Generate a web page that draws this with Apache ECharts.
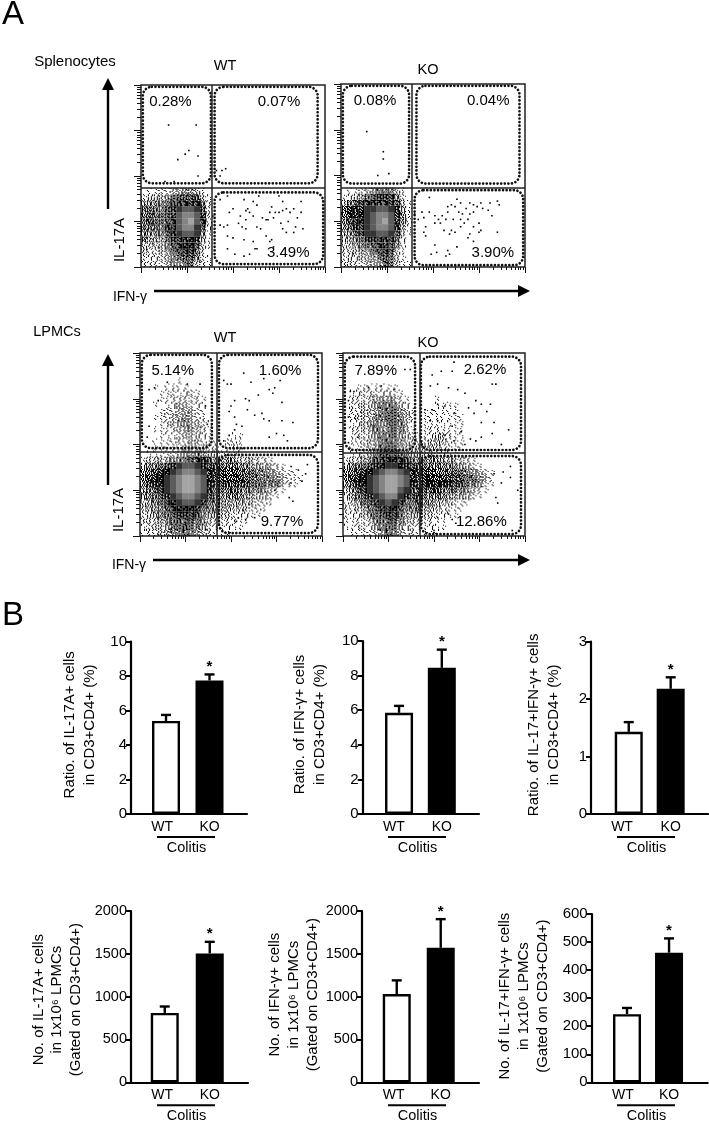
<!DOCTYPE html>
<html>
<head>
<meta charset="utf-8">
<style>html,body{margin:0;padding:0;background:#fff}#chart{width:709px;height:1123px}</style>
<script src="https://cdn.jsdelivr.net/npm/echarts@6/dist/echarts.min.js"></script>
</head>
<body>
<div id="chart"></div>
<script>
// bar values: mean and top of the error bar, [WT, KO]
var il17Ratio = [5.4, 7.75], il17RatioTop = [5.75, 8.1];
var ifngRatio = [5.85, 8.45], ifngRatioTop = [6.25, 9.5];
var dpRatio = [1.43, 2.18], dpRatioTop = [1.6, 2.38];
var il17Count = [810, 1505], il17CountTop = [885, 1640];
var ifngCount = [1030, 1570], ifngCountTop = [1190, 1905];
var dpCount = [243, 462], dpCountTop = [265, 513];
var groups = ['WT', 'KO'];

// gate percentages of panel A: upper left, upper right, lower right
var spleenWtPct = ['0.28%', '0.07%', '3.49%'];
var spleenKoPct = ['0.08%', '0.04%', '3.90%'];
var lpmcWtPct = ['5.14%', '1.60%', '9.77%'];
var lpmcKoPct = ['7.89%', '2.62%', '12.86%'];

// density of the dense cell clouds, read cell by cell, top row first.
// 0-9 = how crowded the dots are, a-d = the smooth grey core of the contour plot (a lightest)
var spleenWtCloud = [
  '011223344310', '233346777731', '455567888862', '566578dccd72', '676678cbbc82', '676678cbac82',
  '666588cbbd72', '555578dccd51', '544468889841', '333357899731', '322346788620', '222235677521', '222234466321'
];
var spleenKoCloud = [
  '011234555310', '123467888520', '367888888731', '5888ddccd841', '6889dcbbc851', '5789dcbac852',
  '5688dcbbc841', '4578ddccd731', '345688888620', '334567887520', '233446787310', '232334576310', '232233476311'
];
var lpmcWtCloud = [
  '000000000000000000000000000000', '000000000000000000000000000000', '000000000000000000000000000000',
  '000000000000000000000000000000', '000000100000000000000000000000', '001011110000000000000000000000',
  '000112122100000000000000000000', '000112222210000000000000000000', '001012332210000000000000000000',
  '000122333210000000000000000000', '001123343210000000000000000000', '000123443321000000000000000000',
  '001112344321000000000000000000', '000111233321000110000000000000', '001112223321102210000000000000',
  '001111233332202220000000000000', '011112344543321110000000000000', '133344567887545433322100000000',
  '355678dccd87766655443321000000', '56789dcbbcd8776766655432110000', '5789dcbaabc8777776665543211000',
  '5789dcbaabc8777777666553210000', '4678dcbaabc8666665554321000000', '45678dcbbcd7655554433210000000',
  '345689dccd86544443322100000000', '344578999865544333221000000000', '234567888754433222110000000000',
  '233456777643322211000000000000', '123346676542212110000000000000', '122345565432111000000000000000'
];
var lpmcKoCloud = [
  '000000000000000000000000000000', '000000000000000000000000000000', '000000000000000000000000000000',
  '000000000000000000000000000000', '000000000000000000000000000000', '001111111000000000000000000000',
  '012222221100000000000000000000', '022233443210000100000000000000', '022334555320000111100000000000',
  '022334566431011111100000000000', '023335566531011111110000000000', '012345456531011111110000000000',
  '022345456531012211110000000000', '012234556432112332110000000000', '012234565433223432110000000000',
  '011234666433334322110000000000', '012235777654333221100000000000', '133457899876555444332100000000',
  '3566789dd987766555543210000000', '56789dcbbcd8777666665432100000', '5789dcbaabc8788777776643100000',
  '5689dcbaabc8788888776542100000', '3578dcbaacd7877766654321000000', '24678dcbbd87865554443210000000',
  '234678dcd866755433211000000000', '223467889755644322110000000000', '222356788644433221100000000000',
  '112235677533322110000000000000', '112224566422212110000000000000', '011223465322111100000000000000'
];

// single events outside the clouds, [IFN-g, IL-17A] in percent of the plot
var spleenWtDots = [[15,78],[30,78],[26,64],[24,62],[31,61],[20,59],[31,50],[13,47],[18,47],[30,46],[41,53],[44,53],[46,54],[43,50],
  [43,23],[45,22],[47,23],[48,30],[50,32],[54,28],[57,31],[58,32],[59,30],[57,26],[53,24],[55,22],[61,28],[63,34],[64,39],[68,26],[66,27],
  [70,30],[71,33],[73,30],[75,30],[77,31],[79,32],[81,30],[83,32],[85,27],[84,22],[87,36],[88,21],[87,30],[75,39],[77,36],[72,27],[69,26],
  [63,22],[65,21],[57,21],[47,17],[50,16],[56,15],[61,14],[63,10],[68,17],[71,15],[72,11],[70,14],[47,10],[51,7],[56,6],[59,7],[62,10],
  [77,21],[79,19],[76,24],[80,25],[83,19],[39,28],[43,37],[47,39],[56,37],[61,36]];
var spleenKoDots = [[14,74],[23,63],[23,59],[20,50],[26,51],[48,38],[45,27],[48,30],[51,24],[46,22],[45,19],[46,17],[51,12],[49,7],[52,8],
  [57,6],[59,7],[63,11],[58,9],[54,24],[55,28],[57,26],[58,30],[58,33],[60,34],[62,33],[63,37],[65,35],[64,30],[66,29],[68,32],[70,35],
  [72,34],[74,33],[76,35],[77,32],[80,31],[81,35],[85,36],[86,34],[82,28],[72,30],[70,29],[69,26],[67,24],[65,26],[61,26],[60,20],[59,18],
  [62,19],[65,22],[70,18],[72,22],[75,24],[75,19],[76,20],[69,16],[72,14],[85,19],[56,20],[40,29],[42,26],[44,30],[51,28],[53,26]];
var lpmcWtDots = [[57,89],[77,85],[68,86],[46,85],[48,83],[50,83],[61,84],[74,81],[71,80],[52,74],[50,71],[60,74],[65,77],[58,75],[73,78],
  [78,73],[49,68],[52,65],[63,66],[67,67],[68,64],[71,63],[78,63],[84,62],[75,56],[71,54],[79,55],[81,52],[52,58],[49,55],[56,60],[46,52],
  [53,61],[59,69],[83,38],[87,36],[92,39],[91,34],[82,21],[84,19],[58,9],[54,10],[53,8],[76,9],[74,25],[83,29],[89,30],[63,10],
  [15,84],[8,81],[5,80],[26,83],[33,83],[36,71],[5,60],[4,54],[37,61],[10,74]];
var lpmcKoDots = [[61,95],[60,90],[54,90],[49,88],[52,83],[48,82],[58,81],[63,80],[67,78],[73,74],[76,72],[82,83],[84,83],[81,72],[79,68],
  [52,72],[49,69],[56,71],[61,67],[69,70],[72,67],[76,62],[83,62],[91,58],[82,56],[76,54],[70,53],[65,57],[60,60],[52,63],[48,63],[45,69],
  [73,52],[67,50],[61,52],[87,50],[56,55],[83,34],[88,35],[92,32],[87,29],[96,25],[84,21],[93,3],[58,12],[60,9],[52,10],[85,18],[62,7],[50,3],
  [92,38],[34,91],[37,91],[4,79],[6,79],[14,81],[21,82],[28,80],[3,74],[3,65],[3,51],[8,54]];

var FONT = '"Liberation Sans", Arial, sans-serif';
var INK = '#000';
var CORE_GREY = {a: '#a4a4a4', b: '#848484', c: '#5c5c5c', d: '#333333'};

var grids = [], xAxes = [], yAxes = [], series = [], elements = [];

// log scale ticks of the flow plots, four decades over 0-100
var decadeTicks = [0, 25, 50, 75, 100];
var minorTicks = [];
for (var d = 0; d < 4; d++) {
  for (var k = 2; k < 10; k++) {
    minorTicks.push(d * 25 + 25 * Math.log10(k));
  }
}

// speckle glyphs: a 6x6 cell, pixels switched on in these fixed orders as the tone rises
var speckleOrders = [
  [14,3,27,32,8,19,0,23,35,11,5,29,17,25,1,33,9,21,12,30,6,16,26,2,34,10,22,7,28,15,4,31,18,24,13,20],
  [7,22,34,1,16,28,11,5,31,19,25,2,13,35,9,20,4,27,15,30,0,24,10,33,18,6,29,3,21,12,26,8,32,17,23,14],
  [26,9,17,33,2,12,30,6,20,24,15,0,28,10,35,4,18,22,31,8,13,27,1,16,34,5,23,11,29,19,3,25,14,32,7,21],
  [19,32,4,12,29,0,23,15,35,7,26,10,2,30,17,21,6,33,13,25,1,28,9,20,34,5,16,24,11,31,3,18,27,8,22,14],
  [10,28,1,21,33,15,6,24,3,18,31,12,35,8,27,0,16,22,5,30,13,25,2,34,19,9,29,4,14,23,32,7,20,11,26,17]
];
function speckleSymbol(variant, tone) {
  var n = Math.round(tone * 3.7);
  var path = 'path://M0 0h.01v.01zM5.99 5.99h.01v.01z';
  for (var i = 0; i < n; i++) {
    var p = speckleOrders[variant][i];
    path += 'M' + (p % 6) + ' ' + Math.floor(p / 6) + 'h1v1h-1z';
  }
  return path;
}

function tickAxis(gridIndex, pos, ticks, len) {
  return {
    type: 'value', gridIndex: gridIndex, position: pos, min: 0, max: 100,
    axisLine: {show: false}, axisLabel: {show: false}, splitLine: {show: false},
    axisTick: {show: true, customValues: ticks, length: len, lineStyle: {color: '#111', width: 1}}
  };
}

function addFlowPanel(p) {
  var g = grids.length;
  var xi = xAxes.length, yi = yAxes.length;
  grids.push({left: p.left, top: p.top, width: p.width, height: p.height, show: true,
    borderColor: '#222', borderWidth: 1.5, backgroundColor: 'transparent'});
  xAxes.push(tickAxis(g, 'bottom', decadeTicks, 6), tickAxis(g, 'bottom', minorTicks, 3));
  yAxes.push(tickAxis(g, 'left', decadeTicks, 7), tickAxis(g, 'left', minorTicks, 4));

  // the dense cloud, one shaded or speckled cell per digit
  var cells = [];
  var rows = p.cloud, nr = rows.length, nc = rows[0].length;
  var dx = p.cloudW / nc, dy = p.cloudH / nr;
  rows.forEach(function (row, r) {
    for (var c = 0; c < row.length; c++) {
      if (row[c] !== '0') {
        cells.push([(c + 0.5) * dx, p.cloudH - (r + 0.5) * dy, row[c], (r * 7 + c * c * 3 + r * c) % 5]);
      }
    }
  });
  series.push({
    type: 'scatter', xAxisIndex: xi, yAxisIndex: yi, silent: true, z: 2,
    symbol: function (v) {
      return CORE_GREY[v[2]] ? 'rect' : speckleSymbol(v[3], +v[2]);
    },
    symbolSize: function (v) {
      var s = dx * p.width / 100;
      return CORE_GREY[v[2]] ? s + 0.4 : s;
    },
    data: cells, dimensions: ['x', 'y', {name: 'tone', type: 'ordinal'}, 'variant'],
    itemStyle: {opacity: 1, color: function (o) {
      return CORE_GREY[cells[o.dataIndex][2]] || '#000';
    }}
  });

  // dots and quadrant lines
  series.push({
    type: 'scatter', xAxisIndex: xi, yAxisIndex: yi, silent: true, z: 3, symbol: 'rect', symbolSize: 1.6,
    data: p.dots, itemStyle: {color: '#000', opacity: 1},
    markLine: {silent: true, symbol: ['none', 'none'], animation: false, label: {show: false},
      lineStyle: {color: '#222', width: 1.5, type: 'solid'},
      data: [{xAxis: p.vLine}, {yAxis: p.hLine}]}
  });

  // rounded dotted gates
  series.push({
    type: 'custom', xAxisIndex: xi, yAxisIndex: yi, silent: true, z: 4, data: p.gates,
    encode: {x: [0, 2], y: [1, 3]},
    renderItem: function (params, api) {
      var a = api.coord([api.value(0), api.value(3)]);
      var b = api.coord([api.value(2), api.value(1)]);
      return {type: 'rect', shape: {x: a[0], y: a[1], width: b[0] - a[0], height: b[1] - a[1], r: 9},
        style: {fill: 'none', stroke: '#111', lineWidth: 2.7, lineDash: [0.01, 3.6], lineCap: 'round'}};
    }
  });

  // percentages
  series.push({
    type: 'scatter', xAxisIndex: xi, yAxisIndex: yi, silent: true, z: 5, symbolSize: 0,
    itemStyle: {opacity: 1},
    data: p.pct.map(function (t, i) { return {value: p.pctAt[i], label: {formatter: t}}; }),
    label: {show: true, position: 'inside', color: INK, textBorderWidth: 0, fontFamily: FONT, fontSize: 15}
  });
}

function addBarPanel(p) {
  var g = grids.length;
  var xi = xAxes.length, yi = yAxes.length;
  var left = p.axisX, right = p.endX, top = p.topY, bottom = p.zeroY;
  grids.push({left: left, top: top, width: right - left, height: bottom - top});
  xAxes.push({
    type: 'value', gridIndex: g, min: p.xMin, max: p.xMax,
    axisLine: {onZero: false, lineStyle: {color: '#000', width: 2.2}},
    axisTick: {show: false}, splitLine: {show: false},
    axisLabel: {customValues: p.labelAt, margin: 6, color: INK, fontFamily: FONT, fontSize: 14,
      formatter: function (v) { return v < 0.5 ? groups[0] : groups[1]; }}
  });
  yAxes.push({
    type: 'value', gridIndex: g, min: 0, max: p.yMax, interval: p.yStep,
    name: p.name, nameLocation: 'middle', nameRotate: 90, nameGap: p.nameGap, nameMoveOverlap: false,
    nameTextStyle: {color: INK, fontFamily: FONT, fontSize: 15, lineHeight: p.nameLine, padding: p.namePad || 0},
    axisLine: {show: true, onZero: false, lineStyle: {color: '#000', width: 2.2}},
    axisTick: {show: true, length: 5, lineStyle: {color: '#000', width: 2}},
    splitLine: {show: false},
    axisLabel: {margin: 4, color: INK, fontFamily: FONT, fontSize: p.tickFont || 15,
      formatter: function (v) { return String(v); }}
  });

  series.push({
    type: 'custom', xAxisIndex: xi, yAxisIndex: yi, silent: true, z: 2,
    data: [[0, p.tops[0], p.values[0]], [1, p.tops[1], p.values[1]]],
    encode: {x: 0, y: [1, 2]},
    renderItem: function (params, api) {
      var t = api.coord([api.value(0), api.value(1)]);
      var m = api.coord([api.value(0), api.value(2)]);
      return {type: 'group', children: [
        {type: 'line', shape: {x1: t[0], y1: t[1], x2: m[0], y2: m[1]}, style: {stroke: '#000', lineWidth: 2.4}},
        {type: 'line', shape: {x1: t[0] - 5, y1: t[1], x2: t[0] + 5, y2: t[1]}, style: {stroke: '#000', lineWidth: 2.4}}
      ]};
    }
  });
  series.push({
    type: 'bar', xAxisIndex: xi, yAxisIndex: yi, silent: true, z: 3, barWidth: 28,
    data: [
      {value: [0, p.values[0]], itemStyle: {color: '#fff', borderColor: '#000', borderWidth: 2.4}},
      {value: [1, p.values[1]], itemStyle: {color: '#000', borderColor: '#000', borderWidth: 2.4}}
    ]
  });
  // significance star over KO
  series.push({
    type: 'scatter', xAxisIndex: xi, yAxisIndex: yi, silent: true, z: 4, symbolSize: 0,
    itemStyle: {opacity: 1},
    data: [[1, p.tops[1]]],
    label: {show: true, position: 'top', distance: 0, formatter: '*', color: '#000', fontFamily: FONT, fontSize: 15, fontWeight: 'bold'}
  });

  // "Colitis" bracket under the groups
  elements.push(
    {type: 'line', shape: {x1: p.lineFrom, y1: p.zeroY + 23, x2: p.lineTo, y2: p.zeroY + 23}, style: {stroke: '#000', lineWidth: 2}},
    {type: 'text', x: (p.lineFrom + p.lineTo) / 2 + 0.5, y: p.zeroY + 34,
      style: {text: 'Colitis', fill: INK, font: '14.5px ' + FONT, textAlign: 'center', textVerticalAlign: 'middle'}}
  );
}

function textEl(text, x, y, size, align, rotation) {
  elements.push({type: 'text', x: x, y: y, rotation: rotation || 0,
    style: {text: text, fill: INK, font: size + 'px ' + FONT, textAlign: align || 'center', textVerticalAlign: 'middle'}});
}

function arrowUp(x, y1, y2) {
  elements.push(
    {type: 'line', shape: {x1: x, y1: y1, x2: x, y2: y2 + 10}, style: {stroke: '#000', lineWidth: 2.4}},
    {type: 'polygon', shape: {points: [[x - 6, y2 + 12], [x + 6, y2 + 12], [x, y2]]}, style: {fill: '#000'}}
  );
}

function arrowRight(x1, x2, y) {
  elements.push(
    {type: 'line', shape: {x1: x1, y1: y, x2: x2 - 10, y2: y}, style: {stroke: '#000', lineWidth: 2.4}},
    {type: 'polygon', shape: {points: [[x2 - 12, y - 6], [x2 - 12, y + 6], [x2, y]]}, style: {fill: '#000'}}
  );
}

addFlowPanel({left: 141, top: 85, width: 184, height: 182, cloud: spleenWtCloud, cloudW: 38.6, cloudH: 43.4,
  dots: spleenWtDots, vLine: 38.6, hLine: 43.4, pct: spleenWtPct, pctAt: [[16, 91], [75, 91], [80, 7.5]],
  gates: [[1, 46, 38, 99], [40, 46, 96, 99], [40, 1.6, 99, 41]]});
addFlowPanel({left: 341, top: 84, width: 184, height: 183, cloud: spleenKoCloud, cloudW: 38.6, cloudH: 43.4,
  dots: spleenKoDots, vLine: 38.6, hLine: 43.4, pct: spleenKoPct, pctAt: [[18.5, 91], [80, 91], [82.5, 7.5]],
  gates: [[1, 45.6, 37, 99], [41, 45.6, 97, 99], [40, 1, 99, 42]]});
addFlowPanel({left: 140, top: 353, width: 182, height: 183, cloud: lpmcWtCloud, cloudW: 100, cloudH: 100,
  dots: lpmcWtDots, vLine: 42.3, hLine: 45.9, pct: lpmcWtPct, pctAt: [[18, 90.5], [77, 90.5], [78, 8]],
  gates: [[1, 48, 39.5, 99], [43.4, 48, 97.8, 99], [43.4, 1.6, 97.8, 44.3]]});
addFlowPanel({left: 343, top: 353, width: 182, height: 183, cloud: lpmcKoCloud, cloudW: 100, cloudH: 100,
  dots: lpmcKoDots, vLine: 42, hLine: 45.4, pct: lpmcKoPct, pctAt: [[18, 90.5], [78, 91], [76, 7.5]],
  gates: [[1, 47, 39.6, 98], [42.8, 47, 97.8, 98], [42.8, 1, 97.8, 43.7]]});

addBarPanel({axisX: 131, endX: 247, topY: 641.7, zeroY: 814, xMin: -0.805, xMax: 1.862, labelAt: [-0.09, 1], lineFrom: 157, lineTo: 215,
  yMax: 10, yStep: 2, values: il17Ratio, tops: il17RatioTop, name: 'Ratio. of IL-17A+ cells\nin CD3+CD4+ (%)', nameGap: 31, nameLine: 20, namePad: [0, 0, 0, 6]});
addBarPanel({axisX: 362.7, endX: 479, topY: 641, zeroY: 814, xMin: -0.85, xMax: 1.87, labelAt: [-0.12, 1], lineFrom: 388, lineTo: 446,
  yMax: 10, yStep: 2, values: ifngRatio, tops: ifngRatioTop, name: 'Ratio. of IFN-γ+ cells\nin CD3+CD4+ (%)', nameGap: 33, nameLine: 20, namePad: [0, 0, 0, 6]});
addBarPanel({axisX: 591, endX: 708, topY: 641.7, zeroY: 814, xMin: -0.9, xMax: 1.89, labelAt: [-0.16, 1], lineFrom: 617, lineTo: 675,
  yMax: 3, yStep: 1, values: dpRatio, tops: dpRatioTop, name: 'Ratio. of IL-17+IFN-γ+ cells\nin CD3+CD4+ (%)', nameGap: 27, nameLine: 20, namePad: [0, 0, 0, 6]});
addBarPanel({axisX: 131, endX: 248, topY: 911, zeroY: 1082.3, xMin: -0.75, xMax: 1.85, labelAt: [-0.06, 1], lineFrom: 157, lineTo: 215, tickFont: 14.5,
  yMax: 2000, yStep: 500, values: il17Count, tops: il17CountTop, name: 'No. of IL-17A+ cells\nin 1x10⁶ LPMCs\n(Gated on CD3+CD4+)', nameGap: 46, nameLine: 18.5, namePad: [0, 6, 0, 0]});
addBarPanel({axisX: 362, endX: 479, topY: 911, zeroY: 1082.3, xMin: -0.79, xMax: 1.87, labelAt: [-0.07, 1], lineFrom: 388, lineTo: 446, tickFont: 14.5,
  yMax: 2000, yStep: 500, values: ifngCount, tops: ifngCountTop, name: 'No. of IFN-γ+ cells\nin 1x10⁶ LPMCs\n(Gated on CD3+CD4+)', nameGap: 40, nameLine: 19, namePad: [0, 0, 0, 4]});
addBarPanel({axisX: 591.7, endX: 707.7, topY: 914, zeroY: 1082.3, xMin: -0.84, xMax: 1.92, labelAt: [-0.1, 1], lineFrom: 617, lineTo: 675,
  yMax: 600, yStep: 100, values: dpCount, tops: dpCountTop, name: 'No. of IL-17+IFN-γ+ cells\nin 1x10⁶ LPMCs\n(Gated on CD3+CD4+)', nameGap: 39, nameLine: 19, namePad: [0, 0, 0, 4]});

// panel letters and flow plot captions
textEl('A', 13, 15, 33);
textEl('B', 13, 616, 33);
textEl('Splenocytes', 75, 62, 15);
textEl('WT', 225, 66, 14.5);
textEl('KO', 428, 70, 14.5);
textEl('LPMCs', 57, 332, 14.5);
textEl('WT', 225, 338, 14.5);
textEl('KO', 428, 343, 14.5);
textEl('IL-17A', 120, 240, 15, 'center', Math.PI / 2);
textEl('IL-17A', 119, 510, 15, 'center', Math.PI / 2);
textEl('IFN-γ', 130, 297, 14);
textEl('IFN-γ', 129, 565, 14);
arrowUp(108, 209, 78);
arrowUp(108, 485, 354);
arrowRight(154, 530, 291);
arrowRight(153, 530, 560);

var chart = echarts.init(document.getElementById('chart'), null, {renderer: 'canvas'});
chart.setOption({
  animation: false,
  backgroundColor: '#fff',
  grid: grids,
  xAxis: xAxes,
  yAxis: yAxes,
  series: series,
  graphic: {elements: elements}
});
</script>
</body>
</html>
